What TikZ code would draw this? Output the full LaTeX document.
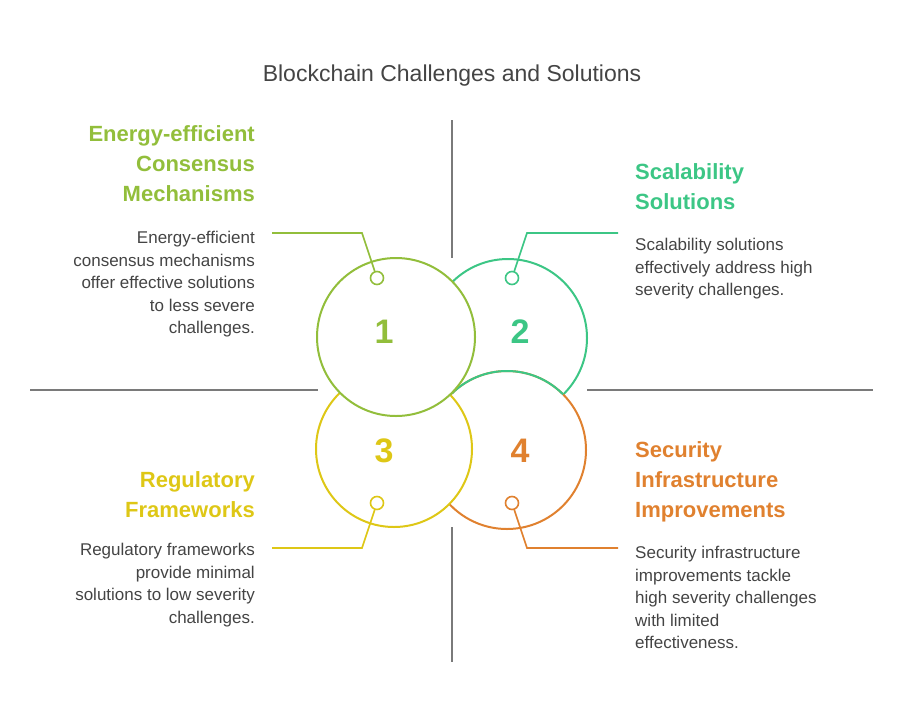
\documentclass[tikz,border=0pt]{standalone}
\usepackage{fontspec}
\setmainfont{Liberation Sans}
\usetikzlibrary{positioning,calc}
\begin{document}
\begin{tikzpicture}[x=1pt,y=-1pt]
    \definecolor{colone}{HTML}{92BE3B}
    \definecolor{coltwo}{HTML}{3CC685}
    \definecolor{colthree}{HTML}{DEC716}
    \definecolor{colfour}{HTML}{E0812F}
    \definecolor{colgrid}{HTML}{7A7A7A}
    \definecolor{coltext}{HTML}{444444}
    \tikzstyle{ring}=[line width=2pt,fill=white]
    \tikzstyle{dot}=[circle,draw,line width=1.6pt,fill=white,minimum size=13pt,inner sep=0pt]
    \tikzstyle{lead}=[line width=1.6pt]
    \tikzstyle{num}=[font=\fontsize{34}{36}\selectfont\bfseries]
    \tikzstyle{head}=[font=\fontsize{22}{30}\selectfont\bfseries,inner sep=0pt]
    \tikzstyle{body}=[font=\fontsize{17}{22.5}\selectfont,text=coltext,inner sep=0pt]
    \useasboundingbox (0,0) rectangle (904,723);
    % title
    \node[font=\fontsize{23}{26}\selectfont,text=coltext] (title) at (452,76) {Blockchain Challenges and Solutions};
    % grid lines
    \draw[colgrid,line width=1.6pt] (452,120) -- (452,258) (452,527) -- (452,662);
    \draw[colgrid,line width=1.6pt] (30,390) -- (318,390) (587,390) -- (873,390);
    % circles
    \draw[ring,draw=coltwo] (508,338) circle[radius=79];
    \draw[ring,draw=colfour] (507,450) circle[radius=79];
    \begin{scope}
        \clip (508,338) circle[radius=79];
        \draw[line width=2pt,coltwo] (507,450) circle[radius=79];
    \end{scope}
    \draw[ring,draw=colthree] (394,449) circle[radius=78];
    \draw[ring,draw=colone] (396,337) circle[radius=79];
    % numbers
    \node[num,text=colone] (n1) at (384,332) {1};
    \node[num,text=coltwo] (n2) at (520,332) {2};
    \node[num,text=colthree] (n3) at (384,451) {3};
    \node[num,text=colfour] (n4) at (520,451) {4};
    % leads
    \coordinate (k1) at (362,233); \coordinate (e1) at (272,233);
    \coordinate (k2) at (527,233); \coordinate (e2) at (618,233);
    \coordinate (k3) at (362,548); \coordinate (e3) at (272,548);
    \coordinate (k4) at (527,548); \coordinate (e4) at (618,548);
    \node[dot,draw=colone] (d1) at (377,278) {};
    \node[dot,draw=coltwo] (d2) at (512,278) {};
    \node[dot,draw=colthree] (d3) at (377,503) {};
    \node[dot,draw=colfour] (d4) at (512,503) {};
    \draw[lead,colone] (d1) -- (k1) -- (e1);
    \draw[lead,coltwo] (d2) -- (k2) -- (e2);
    \draw[lead,colthree] (d3) -- (k3) -- (e3);
    \draw[lead,colfour] (d4) -- (k4) -- (e4);
    % labels
    \node[head,text=colone,align=right,anchor=north east] (h1) at (255,125) {Energy-efficient\\Consensus\\Mechanisms};
    \node[body,align=right,anchor=north east] (b1) at (255,231) {Energy-efficient\\consensus mechanisms\\offer effective solutions\\to less severe\\challenges.};
    \node[head,text=coltwo,align=left,anchor=north west] (h2) at (635,163) {Scalability\\Solutions};
    \node[body,align=left,anchor=north west] (b2) at (635,238) {Scalability solutions\\effectively address high\\severity challenges.};
    \node[head,text=colthree,align=right,anchor=north east] (h3) at (255,471) {Regulatory\\Frameworks};
    \node[body,align=right,anchor=north east] (b3) at (255,543) {Regulatory frameworks\\provide minimal\\solutions to low severity\\challenges.};
    \node[head,text=colfour,align=left,anchor=north west] (h4) at (635,441) {Security\\Infrastructure\\Improvements};
    \node[body,align=left,anchor=north west] (b4) at (635,546) {Security infrastructure\\improvements tackle\\high severity challenges\\with limited\\effectiveness.};
\end{tikzpicture}
\end{document}
